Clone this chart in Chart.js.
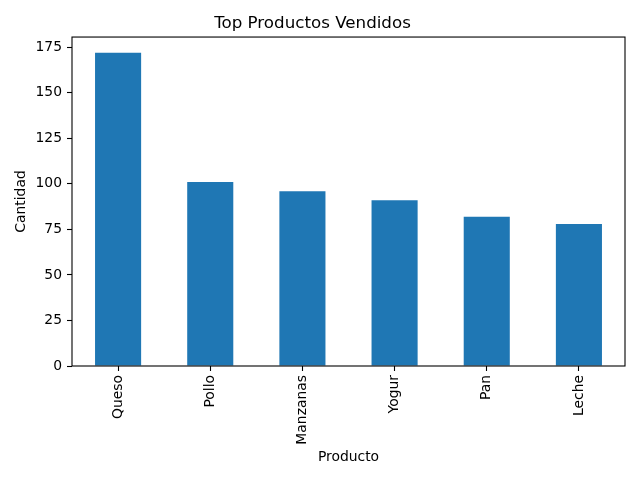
<!DOCTYPE html>
<html>
<head>
<meta charset="utf-8">
<script src="https://cdn.jsdelivr.net/npm/chart.js@4"></script>
<style>
  html, body { margin: 0; padding: 0; background: #fff; }
  #wrap { width: 640px; height: 480px; position: relative; }
</style>
</head>
<body>
<div id="wrap"><canvas id="topProductos"></canvas></div>
<script>
// datos del grafico
var productos = ["Queso", "Pollo", "Manzanas", "Yogur", "Pan", "Leche"];
var cantidades = [172, 101, 96, 91, 82, 78];
var yTicks = [0, 25, 50, 75, 100, 125, 150, 175];

var fuente = "'DejaVu Sans', sans-serif";

// marco completo alrededor del area (como matplotlib)
var marco = {
    id: 'marco',
    afterDatasetsDraw: function (chart) {
        var a = chart.chartArea;
        var ctx = chart.ctx;
        ctx.save();
        ctx.strokeStyle = '#000';
        ctx.lineWidth = 1.1;
        ctx.strokeRect(a.left, a.top, a.right - a.left, a.bottom - a.top);
        ctx.restore();
    }
};

new Chart(document.getElementById('topProductos'), {
    type: 'bar',
    data: {
        labels: productos,
        datasets: [{
            label: 'Cantidad',
            data: cantidades,
            backgroundColor: '#1f77b4',
            borderWidth: 0,
            categoryPercentage: 1,
            barPercentage: 0.5
        }]
    },
    options: {
        responsive: true,
        maintainAspectRatio: false,
        animation: false,
        devicePixelRatio: 1,
        layout: { padding: { left: 0, right: 15, top: 0, bottom: 0 } },
        plugins: {
            legend: { display: false },
            tooltip: { enabled: false },
            title: {
                display: true,
                text: 'Top Productos Vendidos',
                color: '#000',
                font: { family: fuente, size: 16.7, weight: 'normal' },
                padding: { top: 13.5, bottom: 3.5 }
            }
        },
        scales: {
            x: {
                grid: { drawOnChartArea: false, offset: false, color: '#000', tickLength: 5, tickWidth: 1.1 },
                border: { display: false },
                ticks: {
                    color: '#000',
                    minRotation: 90,
                    maxRotation: 90,
                    padding: 4,
                    font: { family: fuente, size: 13.9 }
                },
                title: {
                    display: true,
                    text: 'Producto',
                    color: '#000',
                    font: { family: fuente, size: 13.9 },
                    padding: { top: 0, bottom: 14 }
                },
                afterFit: function (scale) { scale.height = 114; }
            },
            y: {
                min: 0,
                max: 180.6,
                grid: { drawOnChartArea: false, color: '#000', tickLength: 5, tickWidth: 1.1 },
                border: { display: false },
                ticks: {
                    color: '#000',
                    padding: 5,
                    font: { family: fuente, size: 13.9 }
                },
                afterBuildTicks: function (scale) {
                    scale.ticks = yTicks.map(function (v) { return { value: v }; });
                },
                title: {
                    display: true,
                    text: 'Cantidad',
                    color: '#000',
                    font: { family: fuente, size: 13.9 },
                    padding: { top: 13.5, bottom: 0 }
                },
                afterFit: function (scale) { scale.width = 72; }
            }
        }
    },
    plugins: [marco]
});
</script>
</body>
</html>
